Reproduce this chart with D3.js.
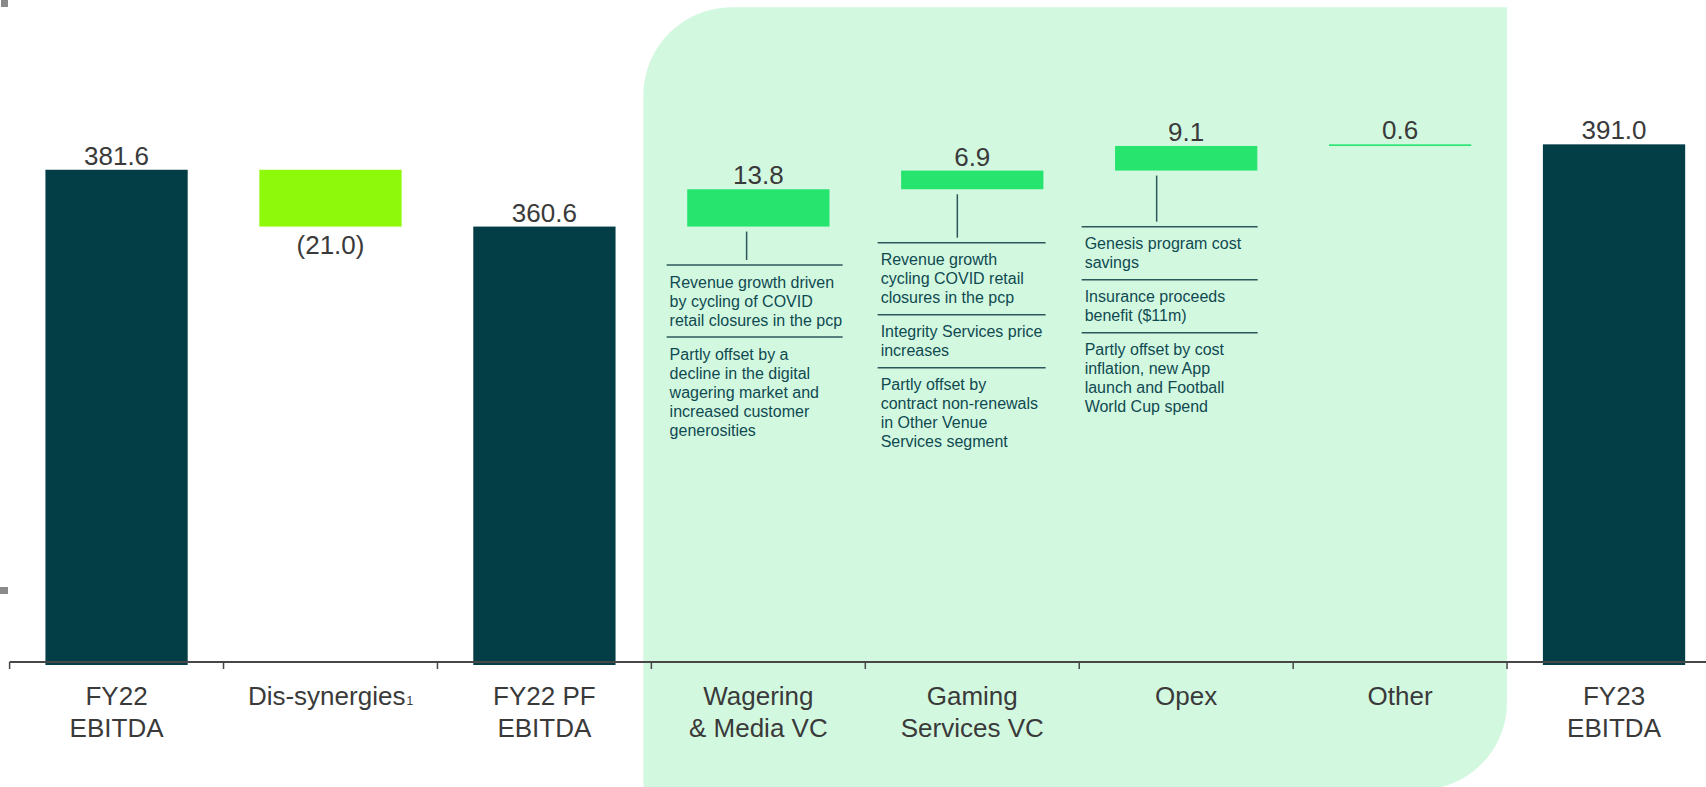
<!DOCTYPE html>
<html>
<head>
<meta charset="utf-8">
<script src="https://cdn.jsdelivr.net/npm/d3@7/dist/d3.min.js"></script>
<style>
  html, body { margin: 0; padding: 0; background: #ffffff; }
  svg { display: block; font-family: "Liberation Sans", Arial, sans-serif; }
</style>
</head>
<body>
<svg id="chart" width="1706" height="787"></svg>
<script>
// ---------------- DATA ----------------
const categories = ["FY22 EBITDA", "Dis-synergies", "FY22 PF EBITDA", "Wagering & Media VC",
                    "Gaming Services VC", "Opex", "Other", "FY23 EBITDA"];
const categoryLines = [["FY22", "EBITDA"], ["Dis-synergies"], ["FY22 PF", "EBITDA"], ["Wagering", "& Media VC"],
                       ["Gaming", "Services VC"], ["Opex"], ["Other"], ["FY23", "EBITDA"]];
const values = [381.6, -21.0, 360.6, 13.8, 6.9, 9.1, 0.6, 391.0];
const barTypes = ["total", "decrease", "total", "increase", "increase", "increase", "increase", "total"];
const valueLabels = ["381.6", "(21.0)", "360.6", "13.8", "6.9", "9.1", "0.6", "391.0"];
const footnoteMarks = ["", "1", "", "", "", "", "", ""];

const wageringNotes = [
  ["Revenue growth driven", "by cycling of COVID", "retail closures in the pcp"],
  ["Partly offset by a", "decline in the digital", "wagering market and", "increased customer", "generosities"]
];
const gamingNotes = [
  ["Revenue growth", "cycling COVID retail", "closures in the pcp"],
  ["Integrity Services price", "increases"],
  ["Partly offset by", "contract non-renewals", "in Other Venue", "Services segment"]
];
const opexNotes = [
  ["Genesis program cost", "savings"],
  ["Insurance proceeds", "benefit ($11m)"],
  ["Partly offset by cost", "inflation, new App", "launch and Football", "World Cup spend"]
];

// ---------------- LAYOUT / STYLE ----------------
const W = 1706, H = 787;
const colors = {
  total: "#033e46", decrease: "#8ff90b", increase: "#27e46f",
  panel: "#d3f8e0", text: "#3a3a3a", axis: "#474747",
  note: "#0f4a51", noteLine: "#2c575c", mark: "#8a8a8a"
};
const axisY = 662;

const svg = d3.select("#chart");

const x = d3.scaleBand().domain(categories).range([9.6, 1721]).paddingInner(0.335).paddingOuter(0.1675);
const y = d3.scaleLinear().domain([198.5, 400]).range([665, 120]);
const base = y.domain()[0];

// compute waterfall extents
let running = 0;
const bars = categories.map((c, i) => {
  let lo, hi;
  if (barTypes[i] === "total") { lo = base; hi = values[i]; running = values[i]; }
  else { const s = running; running = running + values[i]; lo = Math.min(s, running); hi = Math.max(s, running); }
  return { cat: c, lo, hi, type: barTypes[i], label: valueLabels[i], i };
});

const half = x.step() * x.paddingInner() / 2;
const boundary = i => x(categories[i]) - half;

// corner marks (remnants at left edge)
svg.append("rect").attr("x", 1).attr("y", 0).attr("width", 7).attr("height", 7).attr("fill", colors.mark);
svg.append("rect").attr("x", 0).attr("y", 587).attr("width", 8).attr("height", 7).attr("fill", colors.mark);

// highlight panel
{
  const x0 = boundary(3) - 8, x1 = boundary(7), y0 = 7.3, y1 = 790, r = 88;
  svg.append("path")
    .attr("d", `M${x0},${y0 + r} A${r},${r} 0 0 1 ${x0 + r},${y0} H${x1} V${y1 - r} A${r},${r} 0 0 1 ${x1 - r},${y1} H${x0} Z`)
    .attr("fill", colors.panel);
}

// bars
svg.append("g").selectAll("rect").data(bars).join("rect")
  .attr("x", d => x(d.cat))
  .attr("width", x.bandwidth())
  .attr("y", d => y(d.hi))
  .attr("height", d => Math.max(1.6, y(d.lo) - y(d.hi)))
  .attr("fill", d => colors[d.type]);

// value labels
svg.append("g").selectAll("text").data(bars).join("text")
  .attr("x", d => x(d.cat) + x.bandwidth() / 2)
  .attr("y", d => d.type === "decrease" ? y(d.lo) + 27 : y(d.hi) - 5)
  .attr("text-anchor", "middle")
  .attr("font-size", 26)
  .attr("fill", colors.text)
  .text(d => d.label);

// axis line + ticks
svg.append("line").attr("x1", boundary(0)).attr("x2", W).attr("y1", axisY).attr("y2", axisY)
  .attr("stroke", colors.axis).attr("stroke-width", 2);
svg.append("g").selectAll("line").data(categories).join("line")
  .attr("x1", (d, i) => boundary(i)).attr("x2", (d, i) => boundary(i))
  .attr("y1", axisY).attr("y2", axisY + 7)
  .attr("stroke", colors.axis).attr("stroke-width", 1.5);

// category labels
const lab = svg.append("g").selectAll("text").data(categories).join("text")
  .attr("x", d => x(d) + x.bandwidth() / 2)
  .attr("y", 705)
  .attr("text-anchor", "middle")
  .attr("font-size", 26)
  .attr("fill", colors.text);
lab.each(function (d, i) {
  const t = d3.select(this);
  categoryLines[i].forEach((ln, j) => {
    t.append("tspan").attr("x", x(d) + x.bandwidth() / 2).attr("dy", j === 0 ? 0 : 32).text(ln);
  });
  if (footnoteMarks[i]) t.append("tspan").attr("font-size", 12).attr("dx", 1).text(footnoteMarks[i]);
});

// annotations
const noteLayout = [
  { cat: "Wagering & Media VC", notes: wageringNotes, dx: -20.6, width: 176, vx: 59.4, top: 265 },
  { cat: "Gaming Services VC", notes: gamingNotes, dx: -23.5, width: 168, vx: 56.2, top: 242.7 },
  { cat: "Opex", notes: opexNotes, dx: -33.4, width: 176, vx: 41.6, top: 226.7 }
];
const barByCat = Object.fromEntries(bars.map(b => [b.cat, b]));
noteLayout.forEach(L => {
  const g = svg.append("g");
  const left = x(L.cat) + L.dx;
  const b = barByCat[L.cat];
  const vx = x(L.cat) + L.vx;
  g.append("line").attr("x1", vx).attr("x2", vx).attr("y1", y(b.lo) + 5).attr("y2", L.top - 5)
    .attr("stroke", colors.noteLine).attr("stroke-width", 1.5);
  let lineY = L.top;
  L.notes.forEach((block, bi) => {
    g.append("line").attr("x1", left).attr("x2", left + L.width).attr("y1", lineY).attr("y2", lineY)
      .attr("stroke", colors.noteLine).attr("stroke-width", 1.5);
    let by = lineY + 22.5;
    block.forEach((txt, k) => {
      g.append("text").attr("x", left + 3).attr("y", by + k * 19)
        .attr("font-size", 16).attr("fill", colors.note).text(txt);
    });
    lineY = by + (block.length - 1) * 19 + 11.5;
  });
});
</script>
</body>
</html>
